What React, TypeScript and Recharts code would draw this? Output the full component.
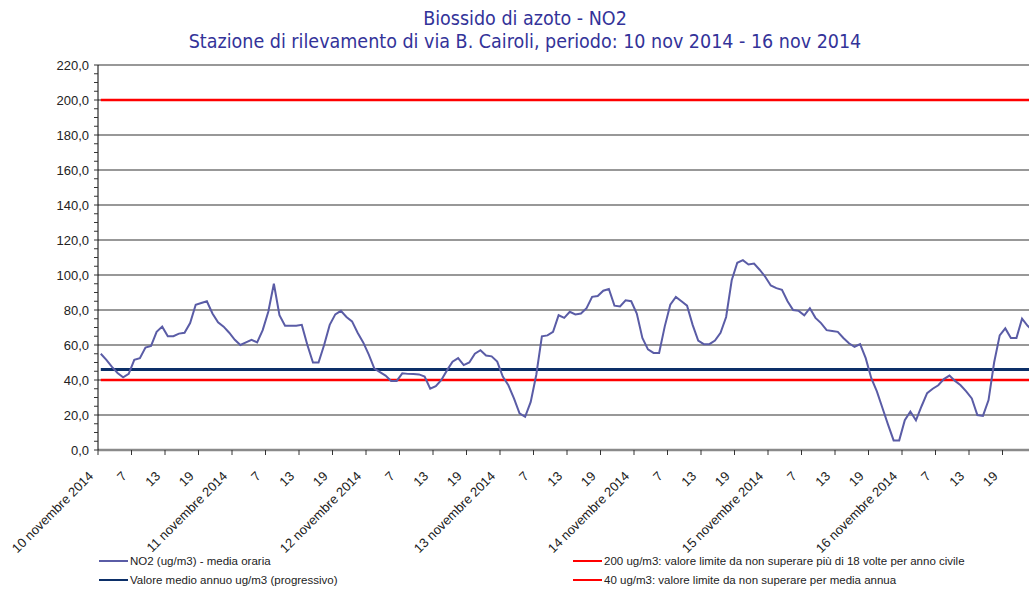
import { LineChart, Line, XAxis, YAxis, ReferenceLine } from 'recharts'

// NO2 hourly means, 10 nov 2014 01:00 -> 16 nov 2014 24:00
const NO2 = [
  55, 51.5, 47.5, 44, 41.5, 43.5, 51.5, 52.5, 58.5, 59.5, 67.5, 70.5,
  65, 65, 66.5, 67, 72.5, 83, 84, 85, 78, 73, 70.5, 67,
  63, 60, 61.5, 63, 61.5, 68.5, 79, 95, 77, 71, 71, 71,
  71.5, 60, 50, 50, 60, 71.5, 77.5, 79.5, 76, 73.5, 67, 61.5,
  54.5, 46.5, 44.5, 42.5, 39.5, 39.5, 43.8, 43.5, 43.4, 43.2, 42, 35,
  36.5, 40, 45.5, 50.5, 52.5, 48.5, 50, 55, 57, 54, 53.5, 50.5,
  42, 37, 29.5, 21, 19, 27.5, 43, 65, 65.5, 67.5, 77, 75.5,
  79, 77.5, 78, 81, 87.5, 88, 91, 92, 82.5, 82, 85.5, 85,
  78, 64, 57.5, 55.5, 55.5, 70.5, 83, 87.5, 85, 82.5, 71.5, 62.5,
  60.5, 60.5, 62.5, 67, 76, 97, 107, 108.5, 106, 106.5, 103, 99,
  94, 92.5, 91.5, 85, 80, 79.5, 77, 81, 75.5, 72.5, 68.5, 68,
  67.5, 64, 61, 59, 60.5, 52.5, 41, 33.5, 24, 14.5, 5.5, 5.5,
  17, 22, 17, 25, 32.5, 35, 37, 40.5, 42.5, 39.5, 37, 33.5,
  29.5, 20, 19.5, 28.5, 50, 65.5, 69.5, 64, 64, 75, 71, 68,
]
const MEAN_ANNUAL = 46
const LIMIT_HOURLY = 200
const LIMIT_ANNUAL = 40

const X_TICKS = [
  0, 6, 12, 18, 24, 30, 36, 42, 48, 54, 60, 66, 72, 78,
  84, 90, 96, 102, 108, 114, 120, 126, 132, 138, 144, 150, 156, 162,
]
const X_LABELS = [
  '10 novembre 2014', '7', '13', '19',
  '11 novembre 2014', '7', '13', '19',
  '12 novembre 2014', '7', '13', '19',
  '13 novembre 2014', '7', '13', '19',
  '14 novembre 2014', '7', '13', '19',
  '15 novembre 2014', '7', '13', '19',
  '16 novembre 2014', '7', '13', '19',
]
const Y_GRID = [20, 40, 60, 80, 100, 120, 140, 160, 180, 200, 220]
const Y_TICKS = Array.from({ length: 45 }, (_, i) => i * 5)

const data = NO2.map((v, i) => ({
  x: i + 0.5,
  no2: v,
  mean: MEAN_ANNUAL,
  limit200: LIMIT_HOURLY,
  limit40: LIMIT_ANNUAL,
}))

const FONT = '"Liberation Sans", Arial, sans-serif'
const NO2_COLOR = '#5a5ca6'
const MEAN_COLOR = '#0c2f68'
const RED = '#ff0000'

function XTick({ x, y, payload }: any) {
  const idx = X_TICKS.indexOf(payload.value)
  const label = X_LABELS[idx] ?? ''
  const tx = x - 4
  const ty = y + 22
  return (
    <text x={tx} y={ty} textAnchor="end" fontSize={13} fontFamily={FONT} fill="#222"
      transform={`rotate(-45 ${tx} ${ty})`}>
      {label}
    </text>
  )
}

const legendRow = (color: string, text: string, left: number, top: number) => (
  <div style={{ position: 'absolute', left, top, display: 'flex', alignItems: 'center', fontFamily: FONT, fontSize: 11.5, color: '#222', whiteSpace: 'pre' }}>
    <span style={{ display: 'inline-block', width: 29, height: 2, background: color, marginRight: 2 }} />
    {text}
  </div>
)

export default function App() {
  return (
    <div style={{ position: 'fixed', left: 0, top: 0, width: 1029, height: 589, overflow: 'hidden', background: '#fff' }}>
      <div style={{ position: 'absolute', left: 0, width: 1050, top: 7, textAlign: 'center', fontFamily: '"DejaVu Sans Condensed", sans-serif', fontSize: 19.5, color: '#333399', lineHeight: '23px' }}>
        <div>Biossido di azoto - NO2</div>
        <div>Stazione di rilevamento di via B. Cairoli, periodo: 10 nov 2014 - 16 nov 2014</div>
      </div>
      <div style={{ position: 'absolute', left: 0, top: 0 }}>
        <LineChart width={1060} height={589} data={data} margin={{ top: 65, right: 24, left: 0, bottom: 0 }}>
          {Y_GRID.map(v => (
            <ReferenceLine key={v} y={v} stroke="#333" strokeWidth={1.2} ifOverflow="extendDomain" />
          ))}
          <XAxis dataKey="x" type="number" domain={[0, 168]} ticks={X_TICKS} interval={0} height={139}
            axisLine={{ stroke: '#8a8a8a', strokeWidth: 2.5 }} tickLine={{ stroke: '#333' }} tickSize={5} tickMargin={0}
            tick={<XTick />} />
          <YAxis type="number" domain={[0, 220]} ticks={Y_TICKS} interval={0} width={98}
            axisLine={{ stroke: '#000' }} tickLine={{ stroke: '#333' }} tickSize={4} tickMargin={5}
            tick={{ fontSize: 13, fontFamily: FONT, fill: '#222' }}
            tickFormatter={(v: number) => (v % 20 === 0 ? v.toFixed(1).replace('.', ',') : '')} />
          <Line dataKey="limit200" stroke={RED} strokeWidth={2.5} dot={false} isAnimationActive={false} />
          <Line dataKey="limit40" stroke={RED} strokeWidth={2.5} dot={false} isAnimationActive={false} />
          <Line dataKey="mean" stroke={MEAN_COLOR} strokeWidth={3} dot={false} isAnimationActive={false} />
          <Line dataKey="no2" stroke={NO2_COLOR} strokeWidth={2} dot={false} isAnimationActive={false} />
        </LineChart>
      </div>
      {legendRow(NO2_COLOR, 'NO2 (ug/m3) - media oraria', 99, 555)}
      {legendRow(MEAN_COLOR, 'Valore medio annuo ug/m3 (progressivo)', 99, 574)}
      {legendRow(RED, '200 ug/m3: valore limite da non superare più di 18 volte per anno civile', 573, 555)}
      {legendRow(RED, '40 ug/m3: valore limite da non superare per media annua', 573, 574)}
    </div>
  )
}
